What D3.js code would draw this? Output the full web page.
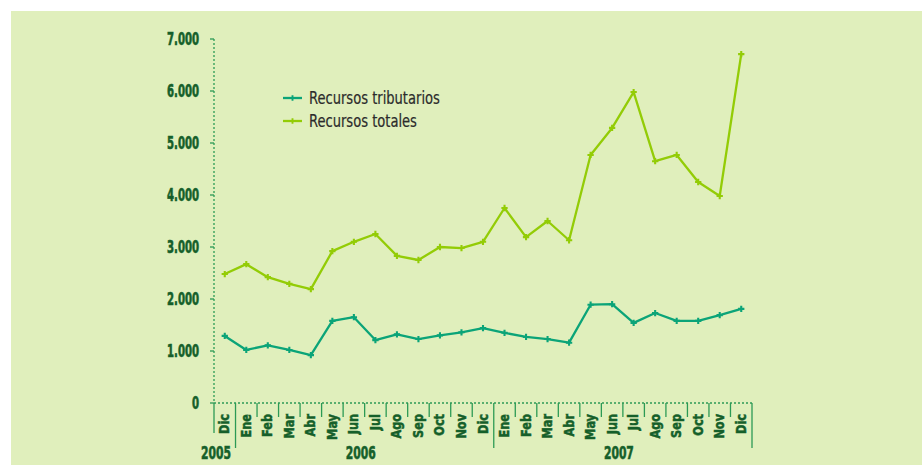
<!DOCTYPE html>
<html>
<head>
<meta charset="utf-8">
<script src="https://cdn.jsdelivr.net/npm/d3@7"></script>
<style>
  html, body { margin: 0; padding: 0; background: #ffffff; }
  svg { display: block; }
  .f { font-family: "DejaVu Sans Condensed", "DejaVu Sans", sans-serif; font-stretch: condensed; }
</style>
</head>
<body>
<svg id="chart" width="922" height="465"></svg>
<script>
const months = ["Dic","Ene","Feb","Mar","Abr","May","Jun","Jul","Ago","Sep","Oct","Nov","Dic","Ene","Feb","Mar","Abr","May","Jun","Jul","Ago","Sep","Oct","Nov","Dic"];
const years = [
  {label: "2005", from: 0, to: 0},
  {label: "2006", from: 1, to: 12},
  {label: "2007", from: 13, to: 24}
];
const tributarios = [1290,1020,1110,1020,920,1580,1650,1210,1320,1230,1300,1360,1440,1350,1270,1230,1160,1890,1900,1540,1730,1580,1580,1690,1810];
const totales = [2480,2670,2420,2290,2190,2920,3100,3250,2830,2750,3000,2980,3100,3750,3190,3500,3130,4770,5290,5980,4650,4770,4250,3980,6710];
const yTicks = [0,1000,2000,3000,4000,5000,6000,7000];
const seriesNames = ["Recursos tributarios", "Recursos totales"];
const colors = ["#0ba478", "#93cc06"];

const svg = d3.select("#chart");
svg.append("rect").attr("x", 11).attr("y", 11).attr("width", 911).attr("height", 454).attr("fill", "#e0efbc");

const x = d3.scaleBand().domain(d3.range(months.length)).range([214, 752]).padding(0);
const y = d3.scaleLinear().domain([0, 7000]).range([403, 39]);
const axisColor = "#2c9a55";
const textColor = "#155f2a";

function squeeze(refNode, target) {
  const w = refNode.getComputedTextLength();
  return Math.min(1, target / w);
}

// y axis (dotted)
svg.append("line").attr("x1", 214).attr("x2", 214).attr("y1", y(7000)).attr("y2", y(0))
  .attr("stroke", axisColor).attr("stroke-width", 1.3).attr("stroke-dasharray", "2,2");
const fmt = d => d === 0 ? "0" : d3.format(",")(d).replace(/,/g, ".");
svg.append("g").selectAll("line").data(yTicks).join("line")
  .attr("x1", 210).attr("x2", 214).attr("y1", d => y(d)).attr("y2", d => y(d))
  .attr("stroke", axisColor).attr("stroke-width", 1.3);
const yLab = svg.append("g").selectAll("text").data(yTicks).join("text")
  .attr("class", "f").attr("fill", textColor).attr("font-size", 17).attr("font-weight", "bold")
  .attr("stroke", textColor).attr("stroke-width", 0.6)
  .attr("text-anchor", "end").text(fmt);
const sy = squeeze(yLab.nodes()[7], 32);
yLab.attr("transform", d => `translate(199,${y(d) + 6}) scale(${sy},1)`);

// x axis (dotted baseline)
svg.append("line").attr("x1", 214).attr("x2", 752).attr("y1", y(0)).attr("y2", y(0))
  .attr("stroke", axisColor).attr("stroke-width", 1.3).attr("stroke-dasharray", "2,2");

// band boundary ticks
const boundaries = d3.range(months.length + 1);
const yearStarts = new Set(years.map(d => d.from));
svg.append("g").selectAll("line").data(boundaries).join("line")
  .attr("x1", i => i < months.length ? x(i) : x.range()[1])
  .attr("x2", i => i < months.length ? x(i) : x.range()[1])
  .attr("y1", y(0))
  .attr("y2", i => i === 0 ? 433 : (yearStarts.has(i) || i === months.length ? 448 : 417))
  .attr("stroke", axisColor).attr("stroke-width", 1.3);

// month labels (rotated)
const mLab = svg.append("g").selectAll("text").data(months).join("text")
  .attr("class", "f")
  .attr("text-anchor", "end")
  .attr("fill", textColor).attr("font-size", 14).attr("font-weight", "bold")
  .attr("stroke", textColor).attr("stroke-width", 0.5)
  .text(d => d);
const sm = squeeze(mLab.nodes()[0], 20);
mLab.attr("transform", (d, i) => `translate(${x(i) + x.bandwidth() / 2 + 4.5},414) rotate(-90) scale(${sm},1)`);

// year labels
const yrLab = svg.append("g").selectAll("text").data(years).join("text")
  .attr("class", "f")
  .attr("text-anchor", "middle")
  .attr("fill", textColor).attr("font-size", 17.5).attr("font-weight", "bold")
  .attr("stroke", textColor).attr("stroke-width", 0.6)
  .text(d => d.label);
const syr = squeeze(yrLab.nodes()[0], 30);
yrLab.attr("transform", d => {
  const cx = d.from === d.to ? x(d.from) + 2 : (x(d.from) + x(d.to) + x.bandwidth()) / 2 - 4;
  return `translate(${cx},459) scale(${syr},1)`;
});

// lines
const series = [tributarios, totales];
const line = d3.line().x((d, i) => x(i) + x.bandwidth() / 2).y(d => y(d));
series.forEach((s, k) => {
  svg.append("path").datum(s).attr("d", line)
    .attr("fill", "none").attr("stroke", colors[k]).attr("stroke-width", 2.3).attr("stroke-linejoin", "round");
  svg.append("g").selectAll("path").data(s).join("path")
    .attr("d", d3.symbol().type(d3.symbolCross).size(22))
    .attr("transform", (d, i) => `translate(${x(i) + x.bandwidth() / 2},${y(d)})`)
    .attr("fill", colors[k]);
});

// legend
const lg = svg.append("g");
const legTexts = [];
seriesNames.forEach((n, k) => {
  const ly = 98 + k * 23;
  lg.append("line").attr("x1", 283).attr("x2", 302).attr("y1", ly).attr("y2", ly)
    .attr("stroke", colors[k]).attr("stroke-width", 2.3);
  lg.append("path").attr("d", d3.symbol().type(d3.symbolCross).size(18))
    .attr("transform", `translate(292.5,${ly})`).attr("fill", colors[k]);
  legTexts.push(lg.append("text").attr("class", "f").attr("fill", "#2b2b2b").attr("font-size", 17.5)
    .attr("stroke", "#2b2b2b").attr("stroke-width", 0.2)
    .attr("data-y", ly).text(n));
});
const sl = Math.min(1, 131 / legTexts[0].node().getComputedTextLength());
legTexts.forEach(t => t.attr("transform", `translate(309,${+t.attr("data-y") + 6}) scale(${sl},1)`));
</script>
</body>
</html>
